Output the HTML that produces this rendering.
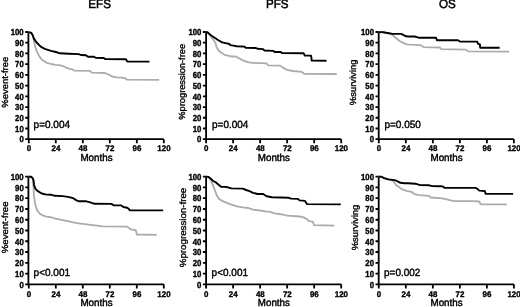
<!DOCTYPE html><html><head><meta charset="utf-8"><style>html,body{margin:0;padding:0;background:#fff;width:520px;height:307px;overflow:hidden}svg{display:block;will-change:transform;filter:blur(0.3px)}text{font-family:"Liberation Sans",sans-serif;text-rendering:geometricPrecision}</style></head><body>
<svg width="520" height="307" viewBox="0 0 520 307">
<text transform="translate(99.6 8.35) scale(1 1.05)" font-size="11.6" text-anchor="middle" fill="#000" stroke="#000" stroke-width="0.5">EFS</text>
<text transform="translate(277.2 8.35) scale(1 1.05)" font-size="11.6" text-anchor="middle" fill="#000" stroke="#000" stroke-width="0.5">PFS</text>
<text transform="translate(447.3 8.35) scale(1 1.05)" font-size="11.6" text-anchor="middle" fill="#000" stroke="#000" stroke-width="0.5">OS</text>
<path d="M28.4 32V139.2H163.8" fill="none" stroke="#000" stroke-width="1.8"/>
<path d="M25.2 139.2H28.4M25.2 128.48H28.4M25.2 117.76H28.4M25.2 107.04H28.4M25.2 96.32H28.4M25.2 85.6H28.4M25.2 74.88H28.4M25.2 64.16H28.4M25.2 53.44H28.4M25.2 42.72H28.4M25.2 32H28.4M28.8 139.2V143.3M55.8 139.2V143.3M82.8 139.2V143.3M109.8 139.2V143.3M136.8 139.2V143.3M163.8 139.2V143.3" fill="none" stroke="#000" stroke-width="1.8"/>
<text transform="translate(23.7 142.45) scale(0.97 1.1)" font-size="8" font-weight="bold" text-anchor="end" stroke="#000" stroke-width="0.35">0</text>
<text transform="translate(23.7 131.73) scale(0.97 1.1)" font-size="8" font-weight="bold" text-anchor="end" stroke="#000" stroke-width="0.35">10</text>
<text transform="translate(23.7 121.01) scale(0.97 1.1)" font-size="8" font-weight="bold" text-anchor="end" stroke="#000" stroke-width="0.35">20</text>
<text transform="translate(23.7 110.29) scale(0.97 1.1)" font-size="8" font-weight="bold" text-anchor="end" stroke="#000" stroke-width="0.35">30</text>
<text transform="translate(23.7 99.57) scale(0.97 1.1)" font-size="8" font-weight="bold" text-anchor="end" stroke="#000" stroke-width="0.35">40</text>
<text transform="translate(23.7 88.85) scale(0.97 1.1)" font-size="8" font-weight="bold" text-anchor="end" stroke="#000" stroke-width="0.35">50</text>
<text transform="translate(23.7 78.13) scale(0.97 1.1)" font-size="8" font-weight="bold" text-anchor="end" stroke="#000" stroke-width="0.35">60</text>
<text transform="translate(23.7 67.41) scale(0.97 1.1)" font-size="8" font-weight="bold" text-anchor="end" stroke="#000" stroke-width="0.35">70</text>
<text transform="translate(23.7 56.69) scale(0.97 1.1)" font-size="8" font-weight="bold" text-anchor="end" stroke="#000" stroke-width="0.35">80</text>
<text transform="translate(23.7 45.97) scale(0.97 1.1)" font-size="8" font-weight="bold" text-anchor="end" stroke="#000" stroke-width="0.35">90</text>
<text transform="translate(23.7 35.25) scale(0.97 1.1)" font-size="8" font-weight="bold" text-anchor="end" stroke="#000" stroke-width="0.35">100</text>
<text transform="translate(28.95 151.2) scale(0.97 1.0)" font-size="8.2" font-weight="bold" text-anchor="middle" stroke="#000" stroke-width="0.35">0</text>
<text transform="translate(55.95 151.2) scale(0.97 1.0)" font-size="8.2" font-weight="bold" text-anchor="middle" stroke="#000" stroke-width="0.35">24</text>
<text transform="translate(82.95 151.2) scale(0.97 1.0)" font-size="8.2" font-weight="bold" text-anchor="middle" stroke="#000" stroke-width="0.35">48</text>
<text transform="translate(109.95 151.2) scale(0.97 1.0)" font-size="8.2" font-weight="bold" text-anchor="middle" stroke="#000" stroke-width="0.35">72</text>
<text transform="translate(136.95 151.2) scale(0.97 1.0)" font-size="8.2" font-weight="bold" text-anchor="middle" stroke="#000" stroke-width="0.35">96</text>
<text transform="translate(163.95 151.2) scale(0.97 1.0)" font-size="8.2" font-weight="bold" text-anchor="middle" stroke="#000" stroke-width="0.35">120</text>
<text transform="translate(96.5 160.65) scale(1 1.03)" font-size="9.8" text-anchor="middle" stroke="#000" stroke-width="0.42">Months</text>
<text transform="translate(7.9 82.2) rotate(-90) scale(1.065 1)" font-size="8.9" text-anchor="middle" stroke="#000" stroke-width="0.35">%event-free</text>
<text transform="translate(33.6 128.1) scale(1 1.05)" font-size="10.0" stroke="#000" stroke-width="0.4">p=0.004</text>
<path d="M28.4 32.3 L31 32.6 L32.5 34.8 L33.4 37.5 L34.5 44 L36.6 50.9 L39.3 56.4 L42 59.8 L46.2 62.6 L51 64 L56 64.8 L60.6 65.4 L64.5 66.7 L67.7 68.4 L72.3 69.3 L74.2 70.6 L89.9 70.9 L91.8 72.6 L104.8 73 L108.8 74.5 L112.2 76.5 L116.8 77.4 L124.8 77.9 L126.9 79.7 L159.2 79.9" fill="none" stroke="#ababab" stroke-width="1.8" stroke-linejoin="round"/>
<path d="M28.4 32.3 L31 32.6 L32.5 34.8 L33.8 38.4 L36.6 42.5 L40.7 46.6 L44.8 48.8 L51 50.8 L56 52 L59.9 53.3 L69 53.7 L78.8 54.1 L80.8 55 L86 55.2 L87.9 56.7 L94 56.8 L95.7 57.8 L103.7 58 L105.4 59.1 L125.9 59.2 L127.3 61.5 L149.5 61.6" fill="none" stroke="#000" stroke-width="1.9" stroke-linejoin="round"/>
<path d="M206.1 32V139.2H341.2" fill="none" stroke="#000" stroke-width="1.8"/>
<path d="M202.9 139.2H206.1M202.9 128.48H206.1M202.9 117.76H206.1M202.9 107.04H206.1M202.9 96.32H206.1M202.9 85.6H206.1M202.9 74.88H206.1M202.9 64.16H206.1M202.9 53.44H206.1M202.9 42.72H206.1M202.9 32H206.1M206.1 139.2V143.3M233.12 139.2V143.3M260.14 139.2V143.3M287.16 139.2V143.3M314.18 139.2V143.3M341.2 139.2V143.3" fill="none" stroke="#000" stroke-width="1.8"/>
<text transform="translate(201.4 142.45) scale(0.97 1.1)" font-size="8" font-weight="bold" text-anchor="end" stroke="#000" stroke-width="0.35">0</text>
<text transform="translate(201.4 131.73) scale(0.97 1.1)" font-size="8" font-weight="bold" text-anchor="end" stroke="#000" stroke-width="0.35">10</text>
<text transform="translate(201.4 121.01) scale(0.97 1.1)" font-size="8" font-weight="bold" text-anchor="end" stroke="#000" stroke-width="0.35">20</text>
<text transform="translate(201.4 110.29) scale(0.97 1.1)" font-size="8" font-weight="bold" text-anchor="end" stroke="#000" stroke-width="0.35">30</text>
<text transform="translate(201.4 99.57) scale(0.97 1.1)" font-size="8" font-weight="bold" text-anchor="end" stroke="#000" stroke-width="0.35">40</text>
<text transform="translate(201.4 88.85) scale(0.97 1.1)" font-size="8" font-weight="bold" text-anchor="end" stroke="#000" stroke-width="0.35">50</text>
<text transform="translate(201.4 78.13) scale(0.97 1.1)" font-size="8" font-weight="bold" text-anchor="end" stroke="#000" stroke-width="0.35">60</text>
<text transform="translate(201.4 67.41) scale(0.97 1.1)" font-size="8" font-weight="bold" text-anchor="end" stroke="#000" stroke-width="0.35">70</text>
<text transform="translate(201.4 56.69) scale(0.97 1.1)" font-size="8" font-weight="bold" text-anchor="end" stroke="#000" stroke-width="0.35">80</text>
<text transform="translate(201.4 45.97) scale(0.97 1.1)" font-size="8" font-weight="bold" text-anchor="end" stroke="#000" stroke-width="0.35">90</text>
<text transform="translate(201.4 35.25) scale(0.97 1.1)" font-size="8" font-weight="bold" text-anchor="end" stroke="#000" stroke-width="0.35">100</text>
<text transform="translate(206.25 151.2) scale(0.97 1.0)" font-size="8.2" font-weight="bold" text-anchor="middle" stroke="#000" stroke-width="0.35">0</text>
<text transform="translate(233.27 151.2) scale(0.97 1.0)" font-size="8.2" font-weight="bold" text-anchor="middle" stroke="#000" stroke-width="0.35">24</text>
<text transform="translate(260.29 151.2) scale(0.97 1.0)" font-size="8.2" font-weight="bold" text-anchor="middle" stroke="#000" stroke-width="0.35">48</text>
<text transform="translate(287.31 151.2) scale(0.97 1.0)" font-size="8.2" font-weight="bold" text-anchor="middle" stroke="#000" stroke-width="0.35">72</text>
<text transform="translate(314.33 151.2) scale(0.97 1.0)" font-size="8.2" font-weight="bold" text-anchor="middle" stroke="#000" stroke-width="0.35">96</text>
<text transform="translate(341.35 151.2) scale(0.97 1.0)" font-size="8.2" font-weight="bold" text-anchor="middle" stroke="#000" stroke-width="0.35">120</text>
<text transform="translate(273.85 160.65) scale(1 1.03)" font-size="9.8" text-anchor="middle" stroke="#000" stroke-width="0.42">Months</text>
<text transform="translate(185.2 81.8) rotate(-90) scale(1.045 1)" font-size="8.9" text-anchor="middle" stroke="#000" stroke-width="0.35">%progression-free</text>
<text transform="translate(212 128.1) scale(1 1.05)" font-size="10.0" stroke="#000" stroke-width="0.4">p=0.004</text>
<path d="M205.6 32.1 L207.4 32.2 L208.6 33.5 L210.8 36.6 L213.1 39.4 L215.4 42.8 L216.5 46.8 L218.3 50.2 L221.1 52.5 L224.5 54.8 L229.1 55.9 L232 56.5 L236 56.4 L238.8 58.3 L243.4 60.6 L248 62.2 L252.5 62.9 L266.2 63.3 L268.5 65.4 L280.3 65.7 L282.5 67.4 L287.1 69.9 L292.8 71 L301.9 71.9 L304.2 73.8 L336.8 74" fill="none" stroke="#ababab" stroke-width="1.8" stroke-linejoin="round"/>
<path d="M205.6 32.1 L207.4 32.2 L209.7 34.3 L212 36 L215.4 38.3 L218.8 40.5 L222.2 42.3 L226.8 43.4 L229.5 44 L230.2 45.1 L232 45.4 L236.6 46.2 L244.5 46.6 L245.7 47.7 L255.9 48 L257.7 48.8 L262.8 49.1 L264.5 50.5 L273.4 50.9 L274.6 52 L280.8 52 L282 53.1 L303.6 53.3 L304.8 55.6 L311.1 55.6 L311.7 60.6 L326.5 60.7" fill="none" stroke="#000" stroke-width="1.9" stroke-linejoin="round"/>
<path d="M378.7 32V139.2H513.9" fill="none" stroke="#000" stroke-width="1.8"/>
<path d="M375.5 139.2H378.7M375.5 128.48H378.7M375.5 117.76H378.7M375.5 107.04H378.7M375.5 96.32H378.7M375.5 85.6H378.7M375.5 74.88H378.7M375.5 64.16H378.7M375.5 53.44H378.7M375.5 42.72H378.7M375.5 32H378.7M378.8 139.2V143.3M405.82 139.2V143.3M432.84 139.2V143.3M459.86 139.2V143.3M486.88 139.2V143.3M513.9 139.2V143.3" fill="none" stroke="#000" stroke-width="1.8"/>
<text transform="translate(374 142.45) scale(0.97 1.1)" font-size="8" font-weight="bold" text-anchor="end" stroke="#000" stroke-width="0.35">0</text>
<text transform="translate(374 131.73) scale(0.97 1.1)" font-size="8" font-weight="bold" text-anchor="end" stroke="#000" stroke-width="0.35">10</text>
<text transform="translate(374 121.01) scale(0.97 1.1)" font-size="8" font-weight="bold" text-anchor="end" stroke="#000" stroke-width="0.35">20</text>
<text transform="translate(374 110.29) scale(0.97 1.1)" font-size="8" font-weight="bold" text-anchor="end" stroke="#000" stroke-width="0.35">30</text>
<text transform="translate(374 99.57) scale(0.97 1.1)" font-size="8" font-weight="bold" text-anchor="end" stroke="#000" stroke-width="0.35">40</text>
<text transform="translate(374 88.85) scale(0.97 1.1)" font-size="8" font-weight="bold" text-anchor="end" stroke="#000" stroke-width="0.35">50</text>
<text transform="translate(374 78.13) scale(0.97 1.1)" font-size="8" font-weight="bold" text-anchor="end" stroke="#000" stroke-width="0.35">60</text>
<text transform="translate(374 67.41) scale(0.97 1.1)" font-size="8" font-weight="bold" text-anchor="end" stroke="#000" stroke-width="0.35">70</text>
<text transform="translate(374 56.69) scale(0.97 1.1)" font-size="8" font-weight="bold" text-anchor="end" stroke="#000" stroke-width="0.35">80</text>
<text transform="translate(374 45.97) scale(0.97 1.1)" font-size="8" font-weight="bold" text-anchor="end" stroke="#000" stroke-width="0.35">90</text>
<text transform="translate(374 35.25) scale(0.97 1.1)" font-size="8" font-weight="bold" text-anchor="end" stroke="#000" stroke-width="0.35">100</text>
<text transform="translate(378.95 151.2) scale(0.97 1.0)" font-size="8.2" font-weight="bold" text-anchor="middle" stroke="#000" stroke-width="0.35">0</text>
<text transform="translate(405.97 151.2) scale(0.97 1.0)" font-size="8.2" font-weight="bold" text-anchor="middle" stroke="#000" stroke-width="0.35">24</text>
<text transform="translate(432.99 151.2) scale(0.97 1.0)" font-size="8.2" font-weight="bold" text-anchor="middle" stroke="#000" stroke-width="0.35">48</text>
<text transform="translate(460.01 151.2) scale(0.97 1.0)" font-size="8.2" font-weight="bold" text-anchor="middle" stroke="#000" stroke-width="0.35">72</text>
<text transform="translate(487.03 151.2) scale(0.97 1.0)" font-size="8.2" font-weight="bold" text-anchor="middle" stroke="#000" stroke-width="0.35">96</text>
<text transform="translate(514.05 151.2) scale(0.97 1.0)" font-size="8.2" font-weight="bold" text-anchor="middle" stroke="#000" stroke-width="0.35">120</text>
<text transform="translate(446.55 160.65) scale(1 1.03)" font-size="9.8" text-anchor="middle" stroke="#000" stroke-width="0.42">Months</text>
<text transform="translate(356.4 82.4) rotate(-90) scale(1.065 1)" font-size="8.9" text-anchor="middle" stroke="#000" stroke-width="0.35">%surviving</text>
<text transform="translate(384.4 128.1) scale(1 1.05)" font-size="10.0" stroke="#000" stroke-width="0.4">p=0.050</text>
<path d="M378.4 32.1 L383.3 32.2 L385.8 32.7 L389 33.3 L391.5 34.2 L394 36.5 L397.5 39.3 L399.6 41 L403.7 43.1 L406.9 44.3 L411 44.7 L420.2 45.1 L423.5 47.1 L439.7 47.5 L441.4 49.1 L466 49.6 L468.1 51.4 L509.2 51.6" fill="none" stroke="#ababab" stroke-width="1.8" stroke-linejoin="round"/>
<path d="M378.4 32.1 L383.3 32.2 L385.8 32.7 L389 33.3 L392.3 33.9 L401.2 33.9 L403.7 35.2 L406.1 36.3 L408 36.5 L414.5 36.5 L418.6 37.7 L436.1 37.7 L436.9 40.2 L457.9 40.3 L459.9 41.5 L477.2 41.6 L478.1 43.8 L479.8 44.2 L480.2 47.7 L499.7 47.7" fill="none" stroke="#000" stroke-width="1.9" stroke-linejoin="round"/>
<path d="M28.4 176.7V284.3H163.8" fill="none" stroke="#000" stroke-width="1.8"/>
<path d="M25.2 284.3H28.4M25.2 273.54H28.4M25.2 262.78H28.4M25.2 252.02H28.4M25.2 241.26H28.4M25.2 230.5H28.4M25.2 219.74H28.4M25.2 208.98H28.4M25.2 198.22H28.4M25.2 187.46H28.4M25.2 176.7H28.4M28.8 284.3V288.4M55.8 284.3V288.4M82.8 284.3V288.4M109.8 284.3V288.4M136.8 284.3V288.4M163.8 284.3V288.4" fill="none" stroke="#000" stroke-width="1.8"/>
<text transform="translate(23.7 287.55) scale(0.97 1.1)" font-size="8" font-weight="bold" text-anchor="end" stroke="#000" stroke-width="0.35">0</text>
<text transform="translate(23.7 276.79) scale(0.97 1.1)" font-size="8" font-weight="bold" text-anchor="end" stroke="#000" stroke-width="0.35">10</text>
<text transform="translate(23.7 266.03) scale(0.97 1.1)" font-size="8" font-weight="bold" text-anchor="end" stroke="#000" stroke-width="0.35">20</text>
<text transform="translate(23.7 255.27) scale(0.97 1.1)" font-size="8" font-weight="bold" text-anchor="end" stroke="#000" stroke-width="0.35">30</text>
<text transform="translate(23.7 244.51) scale(0.97 1.1)" font-size="8" font-weight="bold" text-anchor="end" stroke="#000" stroke-width="0.35">40</text>
<text transform="translate(23.7 233.75) scale(0.97 1.1)" font-size="8" font-weight="bold" text-anchor="end" stroke="#000" stroke-width="0.35">50</text>
<text transform="translate(23.7 222.99) scale(0.97 1.1)" font-size="8" font-weight="bold" text-anchor="end" stroke="#000" stroke-width="0.35">60</text>
<text transform="translate(23.7 212.23) scale(0.97 1.1)" font-size="8" font-weight="bold" text-anchor="end" stroke="#000" stroke-width="0.35">70</text>
<text transform="translate(23.7 201.47) scale(0.97 1.1)" font-size="8" font-weight="bold" text-anchor="end" stroke="#000" stroke-width="0.35">80</text>
<text transform="translate(23.7 190.71) scale(0.97 1.1)" font-size="8" font-weight="bold" text-anchor="end" stroke="#000" stroke-width="0.35">90</text>
<text transform="translate(23.7 179.95) scale(0.97 1.1)" font-size="8" font-weight="bold" text-anchor="end" stroke="#000" stroke-width="0.35">100</text>
<text transform="translate(28.95 296.8) scale(0.97 1.0)" font-size="8.2" font-weight="bold" text-anchor="middle" stroke="#000" stroke-width="0.35">0</text>
<text transform="translate(55.95 296.8) scale(0.97 1.0)" font-size="8.2" font-weight="bold" text-anchor="middle" stroke="#000" stroke-width="0.35">24</text>
<text transform="translate(82.95 296.8) scale(0.97 1.0)" font-size="8.2" font-weight="bold" text-anchor="middle" stroke="#000" stroke-width="0.35">48</text>
<text transform="translate(109.95 296.8) scale(0.97 1.0)" font-size="8.2" font-weight="bold" text-anchor="middle" stroke="#000" stroke-width="0.35">72</text>
<text transform="translate(136.95 296.8) scale(0.97 1.0)" font-size="8.2" font-weight="bold" text-anchor="middle" stroke="#000" stroke-width="0.35">96</text>
<text transform="translate(163.95 296.8) scale(0.97 1.0)" font-size="8.2" font-weight="bold" text-anchor="middle" stroke="#000" stroke-width="0.35">120</text>
<text transform="translate(96.5 305.75) scale(1 1.03)" font-size="9.8" text-anchor="middle" stroke="#000" stroke-width="0.42">Months</text>
<text transform="translate(7.6 227.35) rotate(-90) scale(1.079 1)" font-size="8.9" text-anchor="middle" stroke="#000" stroke-width="0.35">%event-free</text>
<text transform="translate(33.6 275.9) scale(1 1.05)" font-size="10.0" stroke="#000" stroke-width="0.4">p&lt;0.001</text>
<path d="M28.4 176.7 L31.2 176.9 L32.5 178.3 L33.1 181 L33.4 186 L34 195.9 L34.8 201.7 L35.8 206.6 L37.3 210.5 L39.7 213.5 L42.6 215.4 L46.5 216.6 L51.4 217.4 L55 218.5 L58.9 219.3 L65.4 220.6 L71.9 222.1 L78.5 223.4 L85 224.2 L90.2 224.8 L97.2 225.6 L102.4 226.3 L127.2 226.6 L130.6 229.3 L135.8 230.2 L136.9 234.5 L156.7 234.8" fill="none" stroke="#ababab" stroke-width="1.8" stroke-linejoin="round"/>
<path d="M28.4 176.7 L31.4 176.8 L32.9 178.4 L33.6 180.8 L34 184.7 L35.3 188.6 L37.8 191.1 L41.7 193.5 L46.5 194.6 L51.4 194.8 L55 195.8 L62.8 196.1 L68 196.9 L73.2 198.2 L76.5 200.4 L79.1 201.3 L86.3 201.3 L90.2 202.3 L94.6 203.8 L111.5 203.9 L113.5 205.2 L121.3 205.4 L123.3 207 L127.2 207.8 L128.3 208.5 L130 210.3 L163.2 210.4" fill="none" stroke="#000" stroke-width="1.9" stroke-linejoin="round"/>
<path d="M206.1 176.7V284.3H341.2" fill="none" stroke="#000" stroke-width="1.8"/>
<path d="M202.9 284.3H206.1M202.9 273.54H206.1M202.9 262.78H206.1M202.9 252.02H206.1M202.9 241.26H206.1M202.9 230.5H206.1M202.9 219.74H206.1M202.9 208.98H206.1M202.9 198.22H206.1M202.9 187.46H206.1M202.9 176.7H206.1M206.1 284.3V288.4M233.12 284.3V288.4M260.14 284.3V288.4M287.16 284.3V288.4M314.18 284.3V288.4M341.2 284.3V288.4" fill="none" stroke="#000" stroke-width="1.8"/>
<text transform="translate(201.4 287.55) scale(0.97 1.1)" font-size="8" font-weight="bold" text-anchor="end" stroke="#000" stroke-width="0.35">0</text>
<text transform="translate(201.4 276.79) scale(0.97 1.1)" font-size="8" font-weight="bold" text-anchor="end" stroke="#000" stroke-width="0.35">10</text>
<text transform="translate(201.4 266.03) scale(0.97 1.1)" font-size="8" font-weight="bold" text-anchor="end" stroke="#000" stroke-width="0.35">20</text>
<text transform="translate(201.4 255.27) scale(0.97 1.1)" font-size="8" font-weight="bold" text-anchor="end" stroke="#000" stroke-width="0.35">30</text>
<text transform="translate(201.4 244.51) scale(0.97 1.1)" font-size="8" font-weight="bold" text-anchor="end" stroke="#000" stroke-width="0.35">40</text>
<text transform="translate(201.4 233.75) scale(0.97 1.1)" font-size="8" font-weight="bold" text-anchor="end" stroke="#000" stroke-width="0.35">50</text>
<text transform="translate(201.4 222.99) scale(0.97 1.1)" font-size="8" font-weight="bold" text-anchor="end" stroke="#000" stroke-width="0.35">60</text>
<text transform="translate(201.4 212.23) scale(0.97 1.1)" font-size="8" font-weight="bold" text-anchor="end" stroke="#000" stroke-width="0.35">70</text>
<text transform="translate(201.4 201.47) scale(0.97 1.1)" font-size="8" font-weight="bold" text-anchor="end" stroke="#000" stroke-width="0.35">80</text>
<text transform="translate(201.4 190.71) scale(0.97 1.1)" font-size="8" font-weight="bold" text-anchor="end" stroke="#000" stroke-width="0.35">90</text>
<text transform="translate(201.4 179.95) scale(0.97 1.1)" font-size="8" font-weight="bold" text-anchor="end" stroke="#000" stroke-width="0.35">100</text>
<text transform="translate(206.25 296.8) scale(0.97 1.0)" font-size="8.2" font-weight="bold" text-anchor="middle" stroke="#000" stroke-width="0.35">0</text>
<text transform="translate(233.27 296.8) scale(0.97 1.0)" font-size="8.2" font-weight="bold" text-anchor="middle" stroke="#000" stroke-width="0.35">24</text>
<text transform="translate(260.29 296.8) scale(0.97 1.0)" font-size="8.2" font-weight="bold" text-anchor="middle" stroke="#000" stroke-width="0.35">48</text>
<text transform="translate(287.31 296.8) scale(0.97 1.0)" font-size="8.2" font-weight="bold" text-anchor="middle" stroke="#000" stroke-width="0.35">72</text>
<text transform="translate(314.33 296.8) scale(0.97 1.0)" font-size="8.2" font-weight="bold" text-anchor="middle" stroke="#000" stroke-width="0.35">96</text>
<text transform="translate(341.35 296.8) scale(0.97 1.0)" font-size="8.2" font-weight="bold" text-anchor="middle" stroke="#000" stroke-width="0.35">120</text>
<text transform="translate(273.85 305.75) scale(1 1.03)" font-size="9.8" text-anchor="middle" stroke="#000" stroke-width="0.42">Months</text>
<text transform="translate(185.5 227.5) rotate(-90) scale(1.095 1)" font-size="8.9" text-anchor="middle" stroke="#000" stroke-width="0.35">%progression-free</text>
<text transform="translate(211.6 275.9) scale(1 1.05)" font-size="10.0" stroke="#000" stroke-width="0.4">p&lt;0.001</text>
<path d="M205.7 176.7 L208.6 176.9 L210.8 180.5 L213.1 185.5 L214.8 190.1 L216.5 194.7 L218.8 198.7 L222.2 200.9 L226.8 202.9 L231.4 204.7 L237 206.3 L242.7 207.3 L248.4 208 L253 209.6 L259.8 210.5 L265.5 211.4 L270 211.9 L274.6 213.4 L282.5 214.5 L287.1 215.7 L299.6 216.5 L303 217.1 L306.9 219.1 L308.9 221.1 L312.8 221.7 L314.1 225.2 L334.3 225.6" fill="none" stroke="#ababab" stroke-width="1.8" stroke-linejoin="round"/>
<path d="M205.7 176.7 L208.6 176.9 L210.8 178.7 L213.1 181 L215.4 182.1 L218.3 184.4 L221.1 186.7 L224.5 186.9 L227.9 187.3 L231.4 188.4 L242.7 188.6 L246.1 190 L249.5 191.1 L253 192.8 L257.5 194 L263.2 194 L266.6 196.3 L272 197.2 L288.8 197.8 L291.1 198.6 L297.9 198.9 L299.6 200.4 L305 200.9 L306.9 204.1 L340.8 204.4" fill="none" stroke="#000" stroke-width="1.9" stroke-linejoin="round"/>
<path d="M378.7 176.7V284.3H513.9" fill="none" stroke="#000" stroke-width="1.8"/>
<path d="M375.5 284.3H378.7M375.5 273.54H378.7M375.5 262.78H378.7M375.5 252.02H378.7M375.5 241.26H378.7M375.5 230.5H378.7M375.5 219.74H378.7M375.5 208.98H378.7M375.5 198.22H378.7M375.5 187.46H378.7M375.5 176.7H378.7M378.8 284.3V288.4M405.82 284.3V288.4M432.84 284.3V288.4M459.86 284.3V288.4M486.88 284.3V288.4M513.9 284.3V288.4" fill="none" stroke="#000" stroke-width="1.8"/>
<text transform="translate(374 287.55) scale(0.97 1.1)" font-size="8" font-weight="bold" text-anchor="end" stroke="#000" stroke-width="0.35">0</text>
<text transform="translate(374 276.79) scale(0.97 1.1)" font-size="8" font-weight="bold" text-anchor="end" stroke="#000" stroke-width="0.35">10</text>
<text transform="translate(374 266.03) scale(0.97 1.1)" font-size="8" font-weight="bold" text-anchor="end" stroke="#000" stroke-width="0.35">20</text>
<text transform="translate(374 255.27) scale(0.97 1.1)" font-size="8" font-weight="bold" text-anchor="end" stroke="#000" stroke-width="0.35">30</text>
<text transform="translate(374 244.51) scale(0.97 1.1)" font-size="8" font-weight="bold" text-anchor="end" stroke="#000" stroke-width="0.35">40</text>
<text transform="translate(374 233.75) scale(0.97 1.1)" font-size="8" font-weight="bold" text-anchor="end" stroke="#000" stroke-width="0.35">50</text>
<text transform="translate(374 222.99) scale(0.97 1.1)" font-size="8" font-weight="bold" text-anchor="end" stroke="#000" stroke-width="0.35">60</text>
<text transform="translate(374 212.23) scale(0.97 1.1)" font-size="8" font-weight="bold" text-anchor="end" stroke="#000" stroke-width="0.35">70</text>
<text transform="translate(374 201.47) scale(0.97 1.1)" font-size="8" font-weight="bold" text-anchor="end" stroke="#000" stroke-width="0.35">80</text>
<text transform="translate(374 190.71) scale(0.97 1.1)" font-size="8" font-weight="bold" text-anchor="end" stroke="#000" stroke-width="0.35">90</text>
<text transform="translate(374 179.95) scale(0.97 1.1)" font-size="8" font-weight="bold" text-anchor="end" stroke="#000" stroke-width="0.35">100</text>
<text transform="translate(378.95 296.8) scale(0.97 1.0)" font-size="8.2" font-weight="bold" text-anchor="middle" stroke="#000" stroke-width="0.35">0</text>
<text transform="translate(405.97 296.8) scale(0.97 1.0)" font-size="8.2" font-weight="bold" text-anchor="middle" stroke="#000" stroke-width="0.35">24</text>
<text transform="translate(432.99 296.8) scale(0.97 1.0)" font-size="8.2" font-weight="bold" text-anchor="middle" stroke="#000" stroke-width="0.35">48</text>
<text transform="translate(460.01 296.8) scale(0.97 1.0)" font-size="8.2" font-weight="bold" text-anchor="middle" stroke="#000" stroke-width="0.35">72</text>
<text transform="translate(487.03 296.8) scale(0.97 1.0)" font-size="8.2" font-weight="bold" text-anchor="middle" stroke="#000" stroke-width="0.35">96</text>
<text transform="translate(514.05 296.8) scale(0.97 1.0)" font-size="8.2" font-weight="bold" text-anchor="middle" stroke="#000" stroke-width="0.35">120</text>
<text transform="translate(446.55 305.75) scale(1 1.03)" font-size="9.8" text-anchor="middle" stroke="#000" stroke-width="0.42">Months</text>
<text transform="translate(358.3 227.5) rotate(-90) scale(1.065 1)" font-size="8.9" text-anchor="middle" stroke="#000" stroke-width="0.35">%surviving</text>
<text transform="translate(384 275.9) scale(1 1.05)" font-size="10.0" stroke="#000" stroke-width="0.4">p=0.002</text>
<path d="M378.4 176.7 L381.7 176.8 L384.1 178 L388.2 179.2 L393 180.8 L396.3 185.2 L399.6 187.6 L402.9 189.7 L406.9 190.9 L408 191.1 L412.1 192.2 L414.5 194.2 L419.4 195.2 L429.2 195.9 L430.8 197.5 L440 198.2 L444.9 198.9 L450.6 200.3 L455.5 201.2 L472.5 201.2 L479.3 201.5 L480.7 204.4 L506.7 204.4" fill="none" stroke="#ababab" stroke-width="1.8" stroke-linejoin="round"/>
<path d="M378.4 176.7 L381.7 176.8 L384.1 178.2 L388.2 179.4 L394.7 180.1 L397.2 181.1 L400.4 182.8 L404.5 183.2 L408 183.3 L415.3 183.7 L420.2 185.1 L429.2 185.3 L432.4 186.1 L440 186.3 L442.8 186.4 L444.5 187.8 L475.6 187.9 L477.5 188.8 L479.3 190.6 L484.8 191 L485.7 193.9 L513.1 193.9" fill="none" stroke="#000" stroke-width="1.9" stroke-linejoin="round"/>
</svg></body></html>
